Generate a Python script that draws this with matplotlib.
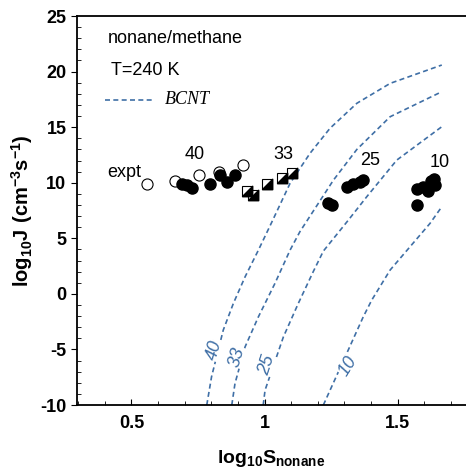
import numpy as np
import matplotlib
matplotlib.use("Agg")
import matplotlib.pyplot as plt
from matplotlib.path import Path
from matplotlib.ticker import MultipleLocator, FuncFormatter

plt.rcParams['font.family'] = ['Liberation Sans', 'DejaVu Sans']
plt.rcParams['mathtext.fontset'] = 'custom'
plt.rcParams['mathtext.rm'] = 'Liberation Sans'
plt.rcParams['mathtext.bf'] = 'Liberation Sans:bold'
plt.rcParams['axes.unicode_minus'] = False

# datos experimentales (log10 S, log10 J)
abiertos_x = [0.557, 0.664, 0.754, 0.830, 0.920]
abiertos_y = [9.9, 10.2, 10.7, 11.0, 11.6]

llenos40_x = [0.689, 0.707, 0.726, 0.795, 0.833, 0.858, 0.889]
llenos40_y = [9.9, 9.8, 9.5, 9.9, 10.7, 10.1, 10.7]

cuadros33_x = [0.935, 0.955, 1.008, 1.065, 1.102]
cuadros33_y = [9.25, 8.9, 9.9, 10.4, 10.85]

llenos25_x = [1.240, 1.252, 1.309, 1.334, 1.359, 1.371]
llenos25_y = [8.2, 8.0, 9.6, 9.9, 10.1, 10.25]

llenos10_x = [1.572, 1.572, 1.597, 1.616, 1.628, 1.635, 1.641, 1.625]
llenos10_y = [8.0, 9.4, 9.6, 9.3, 9.9, 10.3, 9.8, 10.2]

# curvas BCNT
bcnt40_x = [0.783, 0.801, 0.845, 0.883, 0.927, 0.977, 1.027, 1.096, 1.171, 1.246, 1.347, 1.472, 1.666]
bcnt40_y = [-10.0, -7.45, -3.25, -0.85, 1.54, 3.94, 6.44, 9.95, 12.65, 14.9, 17.15, 18.94, 20.59]
bcnt33_x = [0.877, 0.889, 0.927, 0.977, 1.039, 1.096, 1.133, 1.259, 1.347, 1.472, 1.666]
bcnt33_y = [-10.0, -8.06, -4.76, -2.06, 0.94, 3.94, 5.6, 10.24, 13.0, 15.94, 18.19]
bcnt25_x = [0.995, 1.002, 1.071, 1.127, 1.183, 1.221, 1.315, 1.384, 1.497, 1.666]
bcnt25_y = [-10.0, -8.66, -3.86, -0.85, 2.0, 3.85, 6.64, 8.74, 12.04, 15.04]
bcnt10_x = [1.221, 1.371, 1.403, 1.472, 1.622, 1.666]
bcnt10_y = [-10.0, -2.06, -0.55, 2.15, 6.35, 7.84]

curvas = [(bcnt40_x, bcnt40_y), (bcnt33_x, bcnt33_y),
          (bcnt25_x, bcnt25_y), (bcnt10_x, bcnt10_y)]
etiquetas = ['40', '33', '25', '10']
etiq_pos = [(0.810, -5.1, 74), (0.896, -5.7, 74), (1.008, -6.4, 72), (1.315, -6.5, 58)]

azul = '#3f6fa6'

fig = plt.figure(figsize=(4.66, 4.71), dpi=100)
ax = fig.add_axes([0.165, 0.140, 0.835, 0.826])

for (cx, cy) in curvas:
    ax.plot(cx, cy, color=azul, lw=1.2, dashes=(3, 2), zorder=1)

for t, (px, py, rot) in zip(etiquetas, etiq_pos):
    ax.text(px, py, t, color=azul, fontsize=13, style='italic', rotation=rot,
            ha='center', va='center', zorder=2, rotation_mode='anchor',
            bbox=dict(facecolor='white', edgecolor='none', pad=0.3))

ax.plot(abiertos_x, abiertos_y, 'o', ms=8, mfc='white', mec='black', mew=0.8, zorder=3)
ax.plot(llenos40_x, llenos40_y, 'o', ms=8, color='black', zorder=4)
ax.plot(llenos25_x, llenos25_y, 'o', ms=8, color='black', zorder=4)
ax.plot(llenos10_x, llenos10_y, 'o', ms=8, color='black', zorder=4)

# cuadro medio lleno (triangulo inferior derecho negro)
triangulo = Path([(-1, -1), (1, -1), (1, 1), (-1, -1)])
ax.plot(cuadros33_x, cuadros33_y, 's', ms=7.5, mfc='white', mec='black', mew=0.8, zorder=5)
ax.plot(cuadros33_x, cuadros33_y, marker=triangulo, ls='none', ms=7.5, color='black', zorder=6)

# textos
ax.text(0.412, 23.0, 'nonane/methane', fontsize=13, va='center')
ax.text(0.422, 20.1, 'T=240 K', fontsize=13, va='center')
ax.plot([0.40, 0.578], [17.45, 17.45], color=azul, lw=1.2, dashes=(3, 2))
ax.text(0.625, 17.45, 'BCNT', fontsize=13, style='italic', va='center',
        family=['Liberation Serif', 'DejaVu Serif'])
ax.text(0.472, 10.9, 'expt', fontsize=13, ha='center', va='center')
ax.text(0.739, 12.5, '40', fontsize=13, ha='center', va='center')
ax.text(1.070, 12.5, '33', fontsize=13, ha='center', va='center')
ax.text(1.396, 12.0, '25', fontsize=13, ha='center', va='center')
ax.text(1.660, 11.85, '10', fontsize=13, ha='center', va='center')

ax.set_xlim(0.295, 1.757)
ax.set_ylim(-10, 25)
ax.xaxis.set_major_locator(MultipleLocator(0.5))
ax.xaxis.set_minor_locator(MultipleLocator(0.1))
ax.yaxis.set_major_locator(MultipleLocator(5))
ax.yaxis.set_minor_locator(MultipleLocator(1))
ax.xaxis.set_major_formatter(FuncFormatter(lambda v, p: '%g' % v))
ax.yaxis.set_major_formatter(FuncFormatter(lambda v, p: '%d' % v))
ax.spines['right'].set_visible(False)
for s in ['left', 'bottom', 'top']:
    ax.spines[s].set_linewidth(1.3)
ax.tick_params(axis='x', which='both', direction='in', top=False, labelsize=13, pad=7)
ax.tick_params(axis='x', which='major', length=4)
ax.tick_params(axis='x', which='minor', length=3)
ax.tick_params(axis='y', which='major', direction='out', length=4, labelsize=13)
ax.tick_params(axis='y', which='minor', direction='in', length=3)
for lbl in ax.get_xticklabels() + ax.get_yticklabels():
    lbl.set_fontweight('bold')

ax.set_xlabel(r'$\mathbf{log_{10}S_{nonane}}$', fontsize=14, labelpad=12)
ax.set_ylabel(r'$\mathbf{log_{10}J\ (cm^{-3}s^{-1})}$', fontsize=14.5, labelpad=4)

fig.savefig('out.png', dpi=100)
